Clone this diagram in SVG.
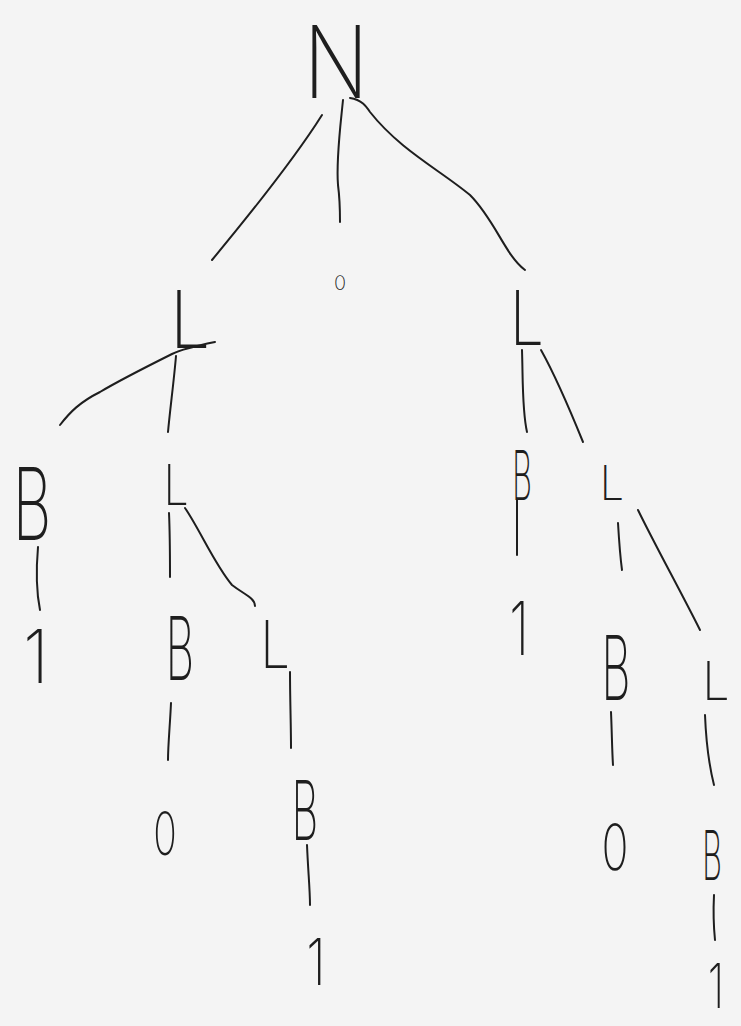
<svg xmlns="http://www.w3.org/2000/svg" width="741" height="1026" viewBox="0 0 741 1026">
<style>
.t{font-family:Inter,"Open Sans","Liberation Sans",sans-serif;font-weight:200;fill:#1e1e1e;text-anchor:middle}
.c{fill:none;stroke:#1e1e1e;stroke-width:2;stroke-linecap:round;stroke-linejoin:round}
</style>
<rect width="741" height="1026" fill="#f4f4f4"/>
<g id="connectors">
<path class="c" d="M322 115 C300 150 270 190 212 260"/>
<path class="c" d="M343 100 C340 130 336 160 338 185 C340 200 340 212 340 222"/>
<path class="c" d="M350 98 C362 100 366 106 370 112 C400 150 440 170 470 195 C495 220 505 255 525 270"/>
<path class="c" d="M215 342 C195 346 180 350 172 354 C140 370 120 380 100 392 C80 402 70 412 60 425"/>
<path class="c" d="M176 356 C174 380 170 410 168 432"/>
<path class="c" d="M38 547 C36 570 37 595 40 610"/>
<path class="c" d="M169 513 C170 535 170 555 170 577"/>
<path class="c" d="M185 508 C200 530 215 565 232 585 C245 595 255 598 255 606"/>
<path class="c" d="M171 703 C170 725 168 745 168 760"/>
<path class="c" d="M290 672 C290 700 291 725 291 748"/>
<path class="c" d="M307 845 C308 870 310 890 310 905"/>
<path class="c" d="M522 350 C523 380 522 410 527 432"/>
<path class="c" d="M541 350 C555 375 570 410 583 442"/>
<path class="c" d="M517 500 C517 520 517 540 517 555"/>
<path class="c" d="M618 523 C619 540 620 555 622 570"/>
<path class="c" d="M638 510 C655 545 680 590 700 630"/>
<path class="c" d="M611 712 C612 735 612 750 613 765"/>
<path class="c" d="M705 715 C706 740 709 765 714 785"/>
<path class="c" d="M714 895 C713 915 714 930 715 940"/>
</g>
<g id="n-root"><text class="t" transform="translate(336 98) scale(0.85 1)" font-size="100">N</text></g>
<g id="n-zero-top"><text class="t" x="340" y="290" font-size="20">0</text></g>
<g id="n-L1"><text class="t" transform="translate(190 348) scale(0.9 1)" font-size="80">L</text></g>
<g id="n-B1"><text class="t" transform="translate(32 540) scale(0.6 1)" font-size="100">B</text></g>
<g id="n-one1"><text class="t" transform="translate(36 683) scale(0.9 1)" font-size="74">1</text></g>
<g id="n-L2"><text class="t" transform="translate(176 505) scale(0.8 1)" font-size="56">L</text></g>
<g id="n-B2"><text class="t" transform="translate(180 680) scale(0.5 1)" font-size="88">B</text></g>
<g id="n-zero2"><text class="t" transform="translate(165 855) scale(0.65 1)" font-size="60">0</text></g>
<g id="n-L3"><text class="t" transform="translate(275 668) scale(0.8 1)" font-size="66">L</text></g>
<g id="n-B3"><text class="t" transform="translate(305 840) scale(0.5 1)" font-size="82">B</text></g>
<g id="n-one3"><text class="t" transform="translate(316 985) scale(0.8 1)" font-size="64">1</text></g>
<g id="n-L4"><text class="t" transform="translate(527 345) scale(0.8 1)" font-size="76">L</text></g>
<g id="n-B4"><text class="t" transform="translate(522 500) scale(0.45 1)" font-size="68">B</text></g>
<g id="n-one4"><text class="t" transform="translate(519 655) scale(0.7 1)" font-size="74">1</text></g>
<g id="n-L5"><text class="t" transform="translate(612 500) scale(0.9 1)" font-size="48">L</text></g>
<g id="n-B5"><text class="t" transform="translate(616 700) scale(0.5 1)" font-size="90">B</text></g>
<g id="n-zero5"><text class="t" transform="translate(615 870) scale(0.7 1)" font-size="64">0</text></g>
<g id="n-L6"><text class="t" transform="translate(716 700) scale(0.9 1)" font-size="54">L</text></g>
<g id="n-B6"><text class="t" transform="translate(712 880) scale(0.45 1)" font-size="68">B</text></g>
<g id="n-one6"><text class="t" transform="translate(716 1008) scale(0.7 1)" font-size="62">1</text></g>
</svg>
